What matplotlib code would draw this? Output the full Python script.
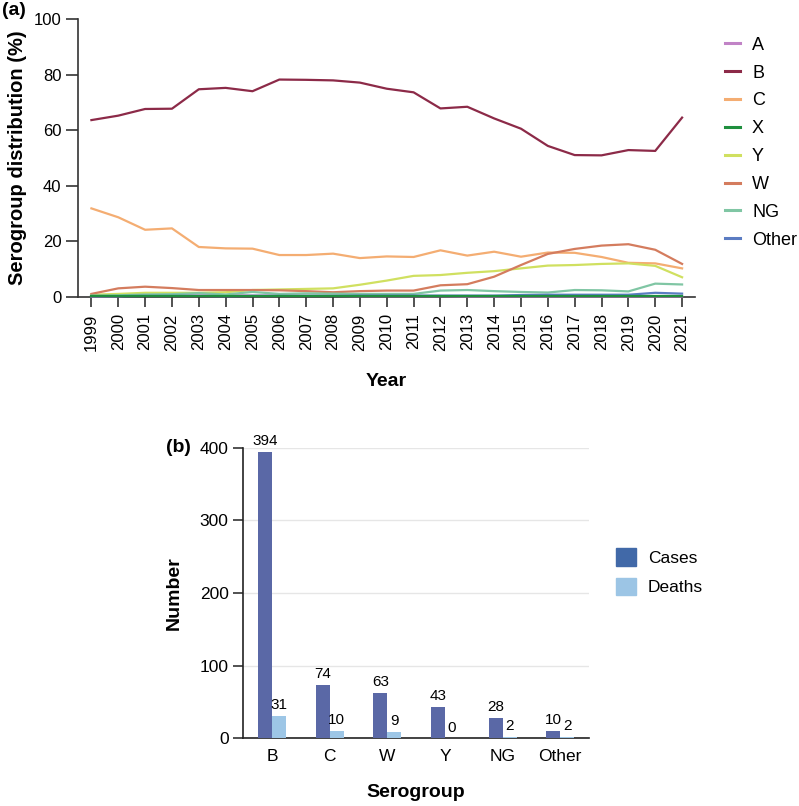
import numpy as np
import matplotlib
matplotlib.rcParams['font.family'] = ['Liberation Sans', 'DejaVu Sans']
import matplotlib.pyplot as plt
from matplotlib.patches import Patch
from matplotlib.lines import Line2D
plt.switch_backend('agg')

years = list(range(1999, 2022))
sero_A = [0.1, 0.2, 0.6, 0.5, 0.4, 0.5, 0.4, 0.4, 0.3, 0.3, 0.2, 0.2, 0.2, 0.2, 0.1, 0.1, 0.1, 0.1, 0.1, 0.1, 0.1, 0.1, 0.1]
sero_B = [63.6, 65.2, 67.6, 67.7, 74.7, 75.2, 74.0, 78.2, 78.1, 77.9, 77.1, 74.9, 73.6, 67.8, 68.4, 64.2, 60.5, 54.3, 51.0, 50.9, 52.8, 52.5, 64.5]
sero_C = [31.8, 28.6, 24.1, 24.6, 17.9, 17.4, 17.3, 15.0, 15.0, 15.5, 13.9, 14.5, 14.3, 16.7, 14.8, 16.2, 14.4, 15.9, 15.8, 14.3, 12.2, 12.0, 10.2]
sero_X = [0.1, 0.1, 0.1, 0.1, 0.1, 0.1, 0.1, 0.1, 0.1, 0.1, 0.1, 0.1, 0.1, 0.1, 0.1, 0.1, 0.1, 0.1, 0.1, 0.1, 0.1, 0.1, 0.1]
sero_Y = [0.7, 1.0, 1.4, 1.4, 1.4, 1.6, 2.4, 2.6, 2.8, 3.0, 4.3, 5.8, 7.5, 7.8, 8.6, 9.2, 10.2, 11.2, 11.4, 11.8, 12.0, 11.1, 7.0]
sero_W = [1.0, 3.0, 3.6, 3.1, 2.4, 2.4, 2.4, 2.3, 2.0, 1.6, 2.0, 2.2, 2.2, 4.1, 4.5, 7.2, 11.4, 15.4, 17.2, 18.4, 18.9, 16.9, 11.8]
sero_NG = [0.4, 0.5, 0.8, 0.9, 1.3, 0.8, 1.7, 1.0, 1.2, 1.1, 1.0, 1.0, 1.0, 2.2, 2.4, 2.0, 1.7, 1.5, 2.4, 2.3, 1.9, 4.7, 4.4]
sero_other = [0.2, 0.2, 0.3, 0.3, 0.3, 0.2, 0.3, 0.3, 0.3, 0.3, 0.4, 0.4, 0.4, 0.4, 0.4, 0.4, 0.6, 0.7, 0.7, 0.7, 0.7, 1.4, 1.1]

line_names = ['A', 'B', 'C', 'X', 'Y', 'W', 'NG', 'Other']
line_colors = ['#c183c6', '#8c2a48', '#f4ad72', '#1f8f3e', '#d0e060', '#d47c5e', '#80c6a4', '#5b7cc2']

groups = ['B', 'C', 'W', 'Y', 'NG', 'Other']
cases = [394, 74, 63, 43, 28, 10]
deaths = [31, 10, 9, 0, 2, 2]

fig = plt.figure(figsize=(7.99, 8.06), dpi=100)

# (a) serogroup distribution by year
ax1 = fig.add_axes([0.0976, 0.6319, 0.7722, 0.3445])
series = [sero_A, sero_B, sero_C, sero_X, sero_Y, sero_W, sero_NG, sero_other]
for name, vals, col in zip(line_names, series, line_colors):
    z = 4 if name == 'X' else 3
    ax1.plot(years, vals, color=col, linewidth=1.6, zorder=z, clip_on=False)
ax1.set_xlim(1998.5, 2021.48)
ax1.set_ylim(0, 100)
ax1.set_yticks(range(0, 101, 20))
ax1.set_xticks(years)
ax1.set_xticklabels([str(y) for y in years], rotation=90)
for s in ['top', 'right']:
    ax1.spines[s].set_visible(False)
for s in ['left', 'bottom']:
    ax1.spines[s].set_color('#333333')
    ax1.spines[s].set_linewidth(1.2)
ax1.tick_params(axis='y', labelsize=12, length=8.5, width=1.2, color='#333333')
ax1.tick_params(axis='x', labelsize=12, length=7, width=1.2, color='#333333', pad=5)
ax1.set_xlabel('Year', fontsize=14, fontweight='bold', labelpad=16)
ax1.set_ylabel('Serogroup distribution (%)', fontsize=14.5, fontweight='bold', labelpad=5)
handles = [Line2D([0], [0], color=c, lw=2.2) for c in line_colors]
ax1.legend(handles, line_names, loc='upper left', bbox_to_anchor=(1.0486, 0.936),
           frameon=False, fontsize=13, handlelength=0.85, handletextpad=0.65,
           labelspacing=0.6, borderaxespad=0, borderpad=0)
fig.text(0.002, 0.998, '(a)', fontsize=14, fontweight='bold', va='top', ha='left')

# (b) cases and deaths by serogroup
ax2 = fig.add_axes([0.3045, 0.0840, 0.4327, 0.3605])
x = np.arange(len(groups))
w = 0.243
ax2.bar(x - w / 2, cases, width=w, color='#5a68a6', zorder=3)
ax2.bar(x + w / 2, deaths, width=w, color='#9dc6e6', zorder=3)
for i in range(len(groups)):
    ax2.text(x[i] - w / 2, cases[i] + 5, str(cases[i]), ha='center', va='bottom', fontsize=11)
    ax2.text(x[i] + w / 2, deaths[i] + 5, str(deaths[i]), ha='center', va='bottom', fontsize=11)
ax2.set_xlim(-0.5, 5.5)
ax2.set_ylim(0, 400)
ax2.set_yticks(range(0, 401, 100))
ax2.set_xticks(x)
ax2.set_xticklabels(groups)
ax2.yaxis.grid(True, color='#e6e6e6', linewidth=1)
ax2.set_axisbelow(True)
for s in ['top', 'right']:
    ax2.spines[s].set_visible(False)
for s in ['left', 'bottom']:
    ax2.spines[s].set_color('#222222')
    ax2.spines[s].set_linewidth(1.2)
ax2.tick_params(axis='y', labelsize=12.5, length=7, width=1.2, color='#333333')
ax2.tick_params(axis='x', labelsize=12.5, length=0, pad=8)
ax2.set_xlabel('Serogroup', fontsize=14, fontweight='bold', labelpad=14)
ax2.set_ylabel('Number', fontsize=14, fontweight='bold', labelpad=12)
leg_handles = [Patch(color='#4169a8'), Patch(color='#9cc5e5')]
ax2.legend(leg_handles, ['Cases', 'Deaths'], loc='center left', bbox_to_anchor=(1.078, 0.573),
           frameon=False, fontsize=12.5, handlelength=1.15, handleheight=1.15,
           handletextpad=0.7, labelspacing=0.69, borderaxespad=0, borderpad=0)
fig.text(0.208, 0.4445, '(b)', fontsize=14, fontweight='bold', va='center', ha='left')

fig.savefig('out.png', dpi=100)
plt.close(fig)
